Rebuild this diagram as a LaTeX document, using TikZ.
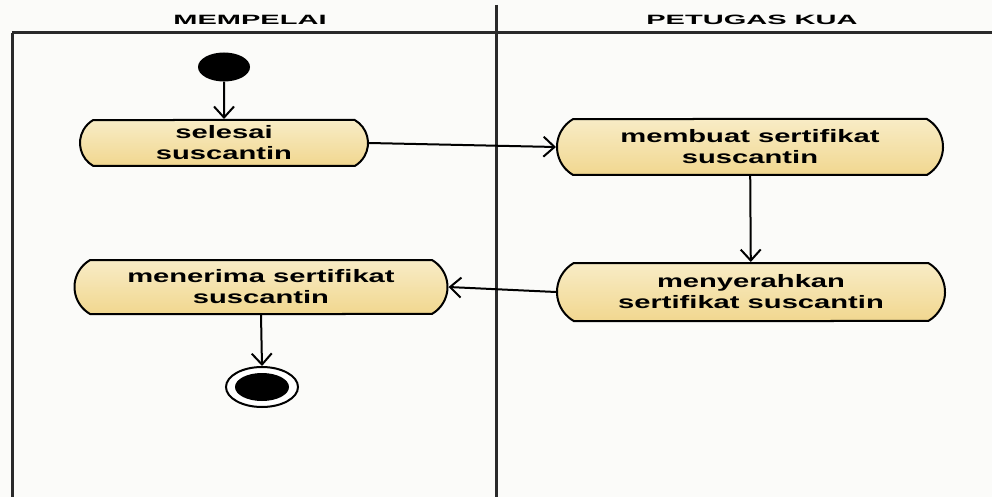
\documentclass[tikz,border=0pt]{standalone}
\usepackage{fontspec}
\usepackage{xcolor}
\usepackage{tikz}
\usetikzlibrary{arrows.meta,shapes.misc,shapes.geometric}

\newfontfamily\actfont[FakeStretch=1.62]{Liberation Sans}
\newfontfamily\lanefont[FakeStretch=2.15]{Liberation Sans}
\definecolor{acttop}{HTML}{F8ECC6}
\definecolor{actbottom}{HTML}{F1D78F}
\definecolor{laneline}{HTML}{2A2A2A}
\definecolor{paper}{HTML}{FBFBF9}

\begin{document}
\begin{tikzpicture}[x=1pt,y=-1pt,
    activity/.style={rounded rectangle, rounded rectangle arc length=120, draw=black, line width=2pt,
        top color=acttop, bottom color=actbottom, align=center, inner sep=0pt,
        font=\actfont\bfseries\fontsize{18}{21}\selectfont},
    lanetitle/.style={font=\lanefont\bfseries\fontsize{13.5}{15}\selectfont},
    flow/.style={-{Straight Barb[length=11pt,width=20pt,line width=2pt]}, line width=2pt},
    lane/.style={laneline, line width=3pt}]
\begin{scope}

    % page
    \fill[paper] (0,0) rectangle (992,497);
    \useasboundingbox (0,0) rectangle (992,497);

    % swimlanes
    \draw[lane] (12,33) -- (992,33);
    \draw[lane] (12,33) -- (12,497);
    \draw[lane] (496,5) -- (496,497);
    \node[lanetitle] (mempelai) at (250,20) {MEMPELAI};
    \node[lanetitle] (petugas) at (752,20) {PETUGAS KUA};

    % start and end
    \node[ellipse, fill=black, minimum width=52pt, minimum height=29pt, inner sep=0pt] (start) at (224,67) {};
    \node[ellipse, draw=black, line width=2pt, fill=white, minimum width=72pt, minimum height=40pt, inner sep=0pt] (finish) at (262,387) {};
    \node[ellipse, fill=black, minimum width=54pt, minimum height=28pt, inner sep=0pt] (finishdot) at (262,387) {};

    % activities
    \node[activity, minimum width=288pt, minimum height=46pt] (selesai) at (224,143) {selesai\\suscantin};
    \node[activity, minimum width=386pt, minimum height=56pt] (membuat) at (750,147) {membuat sertifikat\\suscantin};
    \node[activity, minimum width=388pt, minimum height=58pt] (serah) at (751,292) {menyerahkan\\sertifikat suscantin};
    \node[activity, minimum width=373pt, minimum height=54pt] (terima) at (261,287) {menerima sertifikat\\suscantin};

    % flows
    \draw[flow] (start) -- (selesai);
    \draw[flow] (selesai.east) -- (membuat.west);
    \draw[flow] (membuat) -- (serah);
    \draw[flow] (serah.west) -- (terima.east);
    \draw[flow] (terima.south) -- (finish.north);

\end{scope}
\end{tikzpicture}
\end{document}
